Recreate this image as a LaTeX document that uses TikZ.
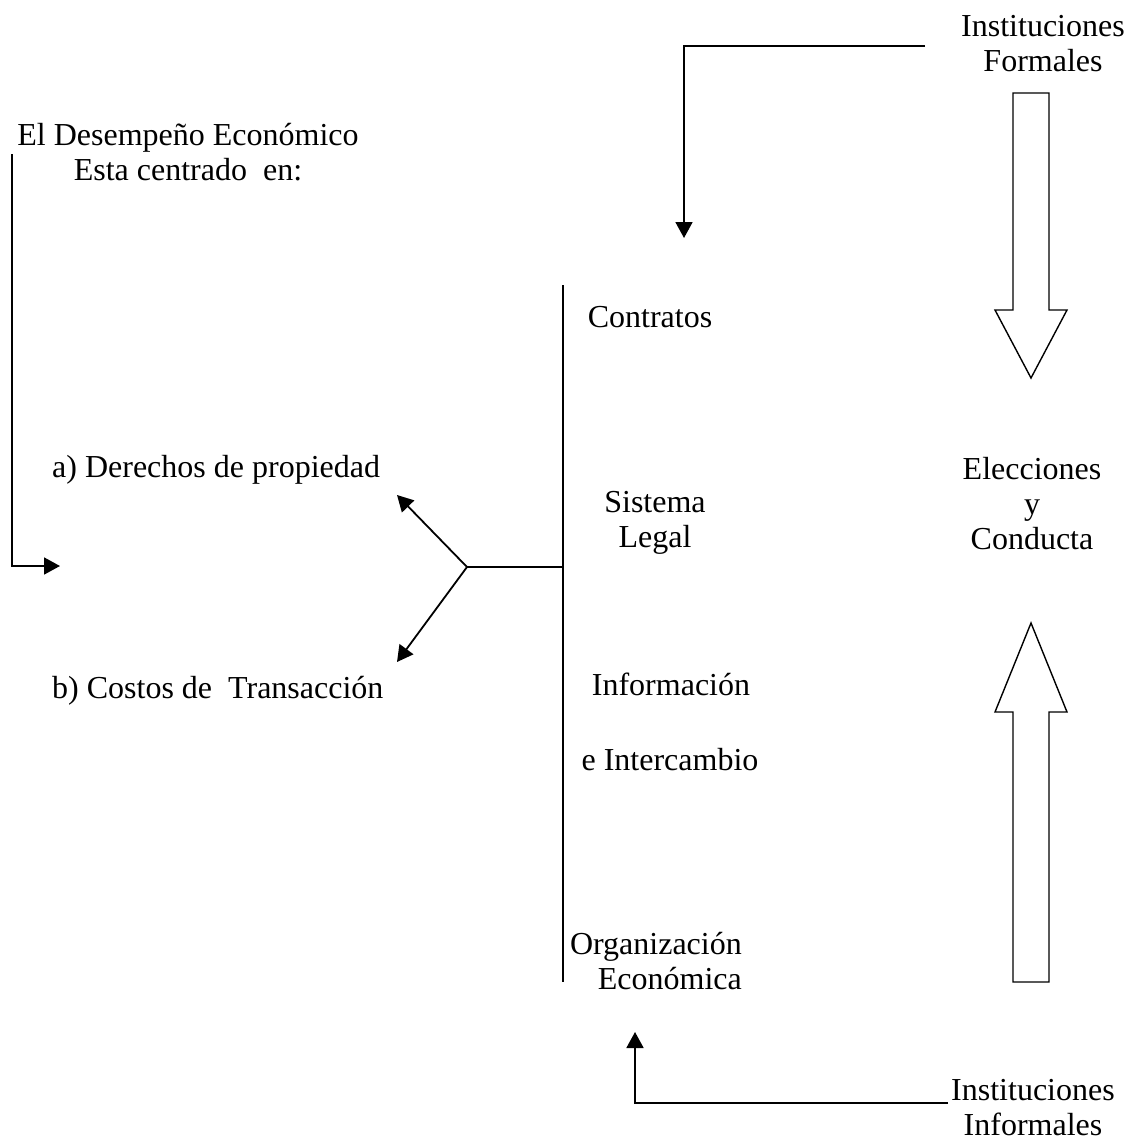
\documentclass[tikz,border=0pt]{standalone}
\usepackage{fontspec}
\setmainfont{Liberation Serif}
\usetikzlibrary{arrows.meta,positioning}

\begin{document}
\begin{tikzpicture}[
    x=1pt, y=-1pt,
    every node/.style={font=\fontsize{32}{35}\selectfont, inner sep=0pt},
    txt/.style={align=center, anchor=base},
    link/.style={line width=1.8pt},
    arrow/.style={link, -{Triangle[length=16pt,width=17pt]}},
    bigarrow/.style={draw=black, line width=1.4pt, fill=white, line join=miter}
]
    \useasboundingbox (0,0) rectangle (1133,1140);

    % left column
    \node[txt] (desempeno) at (188,180) {El Desempeño Económico\\Esta centrado \ en:};
    \node[txt, anchor=base west] (derechos) at (52,477) {a) Derechos de propiedad};
    \node[txt, anchor=base west] (costos) at (52,698) {b) Costos de \ Transacción};

    % middle column
    \node[txt] (contratos) at (650,327) {Contratos};
    \node[txt] (legal) at (655,547) {Sistema\\Legal};
    \node[txt] (informacion) at (671,695) {Información};
    \node[txt] (intercambio) at (670,770) {e Intercambio};
    \node[txt, align=right, anchor=base east] (organizacion) at (742,989) {Organización\\Económica};

    % right column
    \node[txt] (formales) at (1043,71) {Instituciones\\Formales};
    \node[txt] (elecciones) at (1032,549) {Elecciones\\y\\Conducta};
    \node[txt] (informales) at (1033,1135) {Instituciones\\Informales};

    \coordinate (deslo) at (12,154);
    \coordinate (desend) at (60,566);
    \coordinate (formin) at (925,46);
    \coordinate (formend) at (684,238);
    \coordinate (inforin) at (948,1103);
    \coordinate (inforend) at (635,1032);
    \coordinate (bartop) at (563,285);
    \coordinate (barbot) at (563,982);
    \coordinate (fork) at (467,567);
    \coordinate (forkup) at (397,495);
    \coordinate (forkdn) at (397,662);

    % connectors
    \draw[arrow] (deslo) |- (desend);
    \draw[arrow] (formin) -| (formend);
    \draw[arrow] (inforin) -| (inforend);
    \draw[link] (bartop) -- (barbot);
    \draw[link] (bartop |- fork) -- (fork);
    \draw[arrow] (fork) -- (forkup);
    \draw[arrow] (fork) -- (forkdn);

    % block arrows
    \draw[bigarrow] (1013,93) -- (1049,93) -- (1049,310) -- (1067,310)
        -- (1031,378) -- (995,310) -- (1013,310) -- cycle;
    \draw[bigarrow] (1013,982) -- (1049,982) -- (1049,712) -- (1067,712)
        -- (1031,623) -- (995,712) -- (1013,712) -- cycle;
\end{tikzpicture}
\end{document}
